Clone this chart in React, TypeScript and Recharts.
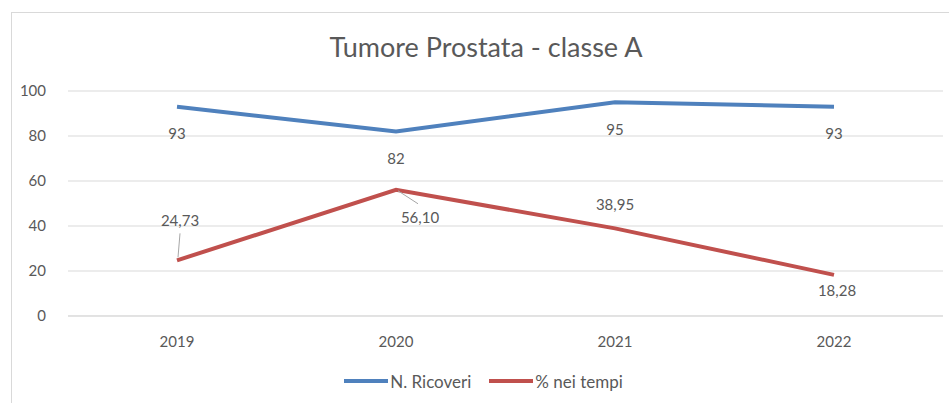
import { CartesianGrid, LabelList, Legend, Line, LineChart, XAxis, YAxis } from "recharts";

const YEARS = ["2019", "2020", "2021", "2022"];
const N_RICOVERI = [93, 82, 95, 93];
const PCT_NEI_TEMPI = [24.73, 56.1, 38.95, 18.28];
const Y_TICKS = [0, 20, 40, 60, 80, 100];

const data = YEARS.map((year, i) => ({ year, ricoveri: N_RICOVERI[i], pct: PCT_NEI_TEMPI[i] }));

const FONT = "Lato, 'Open Sans', sans-serif";
const TEXT = "#595959";
const BLUE = "#4f81bd";
const RED = "#c0504d";

// label offsets from the point (dx, dy), as placed in the original
const BLUE_OFFSET = [[0, 26], [0, 26], [0, 27], [0, 26]];
const RED_OFFSET = [[3, -40], [24, 27], [0, -24], [3, 15]];

const fmt = (v: number, dec: number) => v.toFixed(dec).replace(".", ",");

function makeLabel(offsets: number[][], dec: number, leaders: boolean) {
  return (p: any) => {
    const { x, y, value, index } = p;
    const [dx, dy] = offsets[index];
    let leader = null;
    if (leaders && index === 0) leader = <line x1={x + 1} y1={y - 3} x2={x + 3} y2={y - 27} stroke="#a6a6a6" />;
    if (leaders && index === 1) leader = <line x1={x + 2} y1={y + 1} x2={x + 22} y2={y + 14} stroke="#a6a6a6" />;
    return (
      <g>
        {leader}
        <text x={x + dx} y={y + dy} textAnchor="middle" dominantBaseline="central" fill={TEXT} fontSize={15} fontFamily={FONT}>
          {fmt(value, dec)}
        </text>
      </g>
    );
  };
}

function LegendContent() {
  const item = (color: string, label: string) => (
    <span style={{ display: "inline-flex", alignItems: "center", margin: "0 9px" }}>
      <span style={{ display: "inline-block", width: 44, height: 4, background: color, marginRight: 2 }} />
      {label}
    </span>
  );
  return (
    <div style={{ height: 30, paddingLeft: 24, display: "flex", justifyContent: "center", alignItems: "center", fontFamily: FONT, fontSize: 17, color: TEXT }}>
      {item(BLUE, "N. Ricoveri")}
      {item(RED, "% nei tempi")}
    </div>
  );
}

export default function App() {
  return (
    <div style={{ position: "absolute", left: 0, top: 0, width: 949, height: 403, overflow: "hidden", background: "#fff" }}>
      <div style={{ position: "absolute", left: 11, top: 12, width: 960, height: 420, border: "1px solid #d9d9d9" }} />
      <div style={{ position: "absolute", left: 0, top: 30, width: 972, textAlign: "center", fontFamily: FONT, fontSize: 27, color: TEXT }}>
        Tumore Prostata - classe A
      </div>
      <LineChart width={949} height={403} data={data} margin={{ top: 91, right: 6, left: 0, bottom: 17 }} style={{ position: "absolute", left: 0, top: 0 }}>
        <CartesianGrid vertical={false} stroke="#d9d9d9" />
        <XAxis
          dataKey="year"
          padding={{ left: 109, right: 109 }}
          axisLine={{ stroke: "#d9d9d9" }}
          tickLine={false}
          tickMargin={14}
          height={40}
          tick={{ fill: TEXT, fontSize: 15, fontFamily: FONT }}
        />
        <YAxis
          domain={[0, 100]}
          ticks={Y_TICKS}
          axisLine={false}
          tickLine={false}
          width={68}
          tickMargin={16}
          tick={{ fill: TEXT, fontSize: 15, fontFamily: FONT }}
        />
        <Legend verticalAlign="bottom" content={LegendContent} wrapperStyle={{ bottom: 7 }} />
        <Line dataKey="ricoveri" name="N. Ricoveri" stroke={BLUE} strokeWidth={4} dot={false} isAnimationActive={false}>
          <LabelList dataKey="ricoveri" content={makeLabel(BLUE_OFFSET, 0, false)} />
        </Line>
        <Line dataKey="pct" name="% nei tempi" stroke={RED} strokeWidth={4} dot={false} isAnimationActive={false}>
          <LabelList dataKey="pct" content={makeLabel(RED_OFFSET, 2, true)} />
        </Line>
      </LineChart>
    </div>
  );
}
